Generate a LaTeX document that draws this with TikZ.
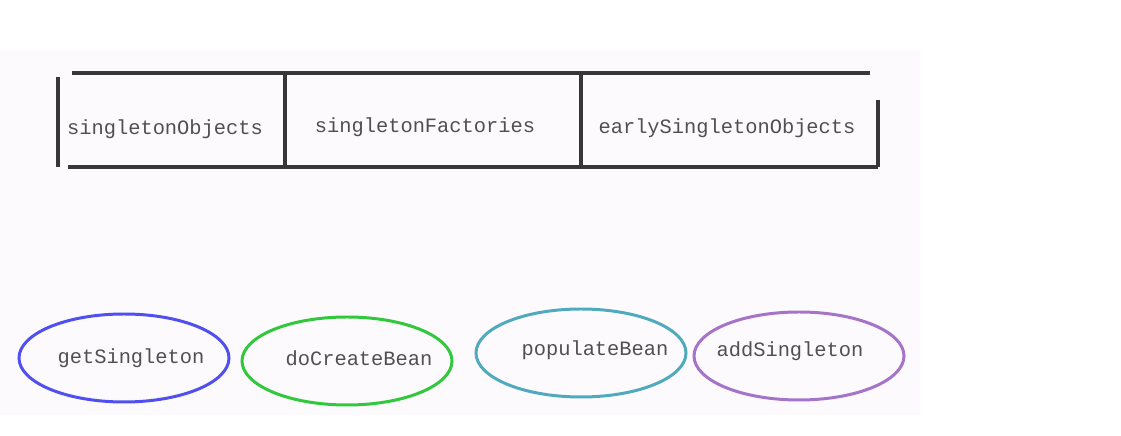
\documentclass[tikz,border=0pt]{standalone}
\usepackage{fontspec}
\setmonofont{Liberation Mono}
\usetikzlibrary{shapes.geometric}

\definecolor{paper}{RGB}{252,250,253}
\definecolor{ink}{RGB}{55,55,55}
\definecolor{txt}{RGB}{80,80,80}
\definecolor{getblue}{RGB}{80,80,240}
\definecolor{creategreen}{RGB}{50,200,60}
\definecolor{popteal}{RGB}{80,170,190}
\definecolor{addpurple}{RGB}{165,115,200}

\tikzset{
	cachetext/.style={font=\ttfamily\fontsize{11.6}{13}\selectfont, text=txt, inner sep=0pt},
	method/.style={ellipse, draw, line width=1.7pt, minimum width=4.2cm, minimum height=1.76cm,
		inner sep=0pt, outer sep=0pt},
}

\begin{document}
\begin{tikzpicture}
	\def \ytop{7.26}
	\def \ybot{5.38}
	\def \ymid{6.16}

	\useasboundingbox (0,0) rectangle (22.42,8.72);
	\fill[paper] (0,0.42) rectangle (18.4,7.72);

	% Three caches
	\begin{scope}[ink, line width=2pt]
		\draw (1.16,7.18) -- (1.16,\ybot);
		\draw (1.44,\ytop) -- (17.40,\ytop);
		\draw (1.36,\ybot) -- (17.56,\ybot);
		\draw (17.56,6.72) -- (17.56,\ybot);
		\foreach \xd in {5.70, 11.62} {
			\draw (\xd,\ytop) -- (\xd,\ybot);
		}
	\end{scope}
	\node[cachetext] (objs) at (3.30,6.14) {singletonObjects};
	\node[cachetext] (facs) at (8.50,6.18) {singletonFactories};
	\node[cachetext] (early) at (14.54,\ymid) {earlySingletonObjects};

	% Methods
	\node[method, draw=getblue] (get) at (2.48,1.56) {};
	\node[method, draw=creategreen] (create) at (6.94,1.50) {};
	\node[method, draw=popteal] (populate) at (11.62,1.66) {};
	\node[method, draw=addpurple] (add) at (15.98,1.60) {};
	\node[cachetext] (gettext) at ([xshift=0.14cm]get) {getSingleton};
	\node[cachetext] (createtext) at ([xshift=0.24cm, yshift=0.06cm]create) {doCreateBean};
	\node[cachetext] (poptext) at ([xshift=0.28cm, yshift=0.06cm]populate) {populateBean};
	\node[cachetext] (addtext) at ([xshift=-0.18cm, yshift=0.1cm]add) {addSingleton};

\end{tikzpicture}
\end{document}
